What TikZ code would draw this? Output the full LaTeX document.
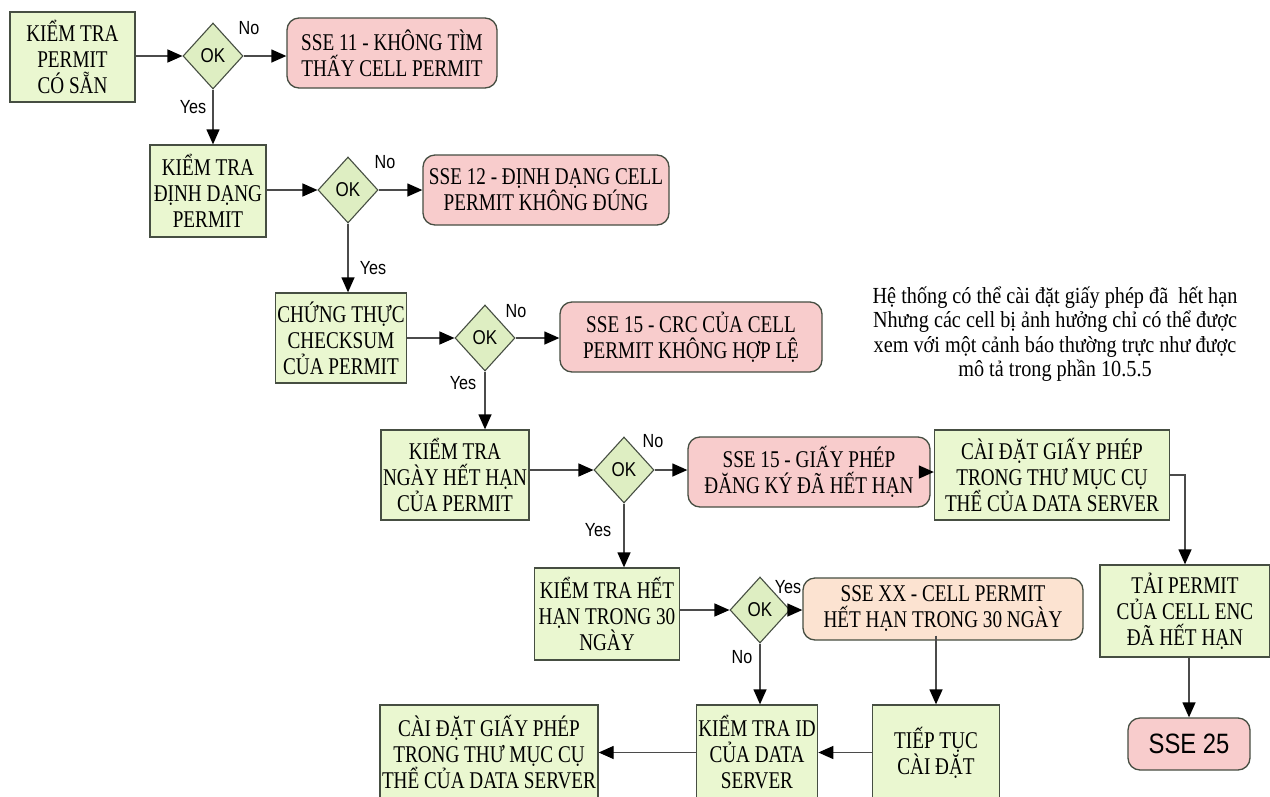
\documentclass[tikz,border=0pt]{standalone}
\usepackage{fontspec}
\setmainfont{Liberation Serif}
\newfontfamily\boxfont{Liberation Serif}[FakeStretch=0.8]
\newfontfamily\notefont{Liberation Serif}[FakeStretch=0.88]
\newfontfamily\tagfont{Liberation Sans}[FakeStretch=0.85]
\usetikzlibrary{shapes.geometric,arrows.meta}

\definecolor{taskgreen}{RGB}{234,247,208}
\definecolor{decgreen}{RGB}{222,238,194}
\definecolor{errpink}{RGB}{248,204,204}
\definecolor{warnpeach}{RGB}{252,227,209}
\definecolor{edgegray}{RGB}{70,78,66}
\definecolor{linegray}{RGB}{75,75,75}

\tikzset{
  base/.style={draw=edgegray, line width=1.3pt, align=center, inner sep=2pt,
    font=\boxfont\fontsize{24}{26}\selectfont},
  taskbox/.style={base, rectangle, fill=taskgreen},
  errbox/.style={base, rectangle, rounded corners=12pt, fill=errpink},
  warnbox/.style={base, rectangle, rounded corners=12pt, fill=warnpeach},
  decision/.style={diamond, draw=edgegray, line width=1.1pt, fill=decgreen,
    minimum width=60pt, minimum height=66pt, inner sep=0pt,
    font=\tagfont\fontsize{20}{20}\selectfont},
  flow/.style={draw=linegray, line width=1.3pt,
    -{Triangle[length=15pt,width=13pt,color=black]}},
  tag/.style={font=\tagfont\fontsize{19}{19}\selectfont, inner sep=0pt},
}

\begin{document}
\begin{tikzpicture}[x=1pt,y=-1pt]
\useasboundingbox[fill=white] (0,0) rectangle (1270,796);

% row 1
\node[taskbox, minimum width=125pt, minimum height=90pt] (b1) at (72.5,57)
  {KIỂM TRA\\PERMIT\\CÓ SẴN};
\node[decision] (d1) at (213,56) {OK};
\node[errbox, minimum width=210pt, minimum height=70pt] (s11) at (392,53)
  {SSE 11 - KHÔNG TÌM\\THẤY CELL PERMIT};

% row 2
\node[taskbox, minimum width=116pt, minimum height=92pt] (b2) at (208,191)
  {KIỂM TRA\\ĐỊNH DẠNG\\PERMIT};
\node[decision] (d2) at (348,190) {OK};
\node[errbox, minimum width=246pt, minimum height=70pt] (s12) at (546,190)
  {SSE 12 - ĐỊNH DẠNG CELL\\PERMIT KHÔNG ĐÚNG};

% row 3
\node[taskbox, minimum width=128pt, minimum height=90pt] (b3) at (341,338)
  {CHỨNG THỰC\\CHECKSUM\\CỦA PERMIT};
\node[decision] (d3) at (485,338) {OK};
\node[errbox, minimum width=262pt, minimum height=70pt] (s15a) at (691,337)
  {SSE 15 - CRC CỦA CELL\\PERMIT KHÔNG HỢP LỆ};

% note
\node[align=center, inner sep=0pt, font=\notefont\fontsize{23}{24.5}\selectfont]
  (note) at (1055,334)
  {Hệ thống có thể cài đặt giấy phép đã\ \ hết hạn\\
   Nhưng các cell bị ảnh hưởng chỉ có thể được\\
   xem với một cảnh báo thường trực như được\\
   mô tả trong phần 10.5.5};

% row 4
\node[taskbox, minimum width=130pt, minimum height=90pt] (b4) at (455,475)
  {KIỂM TRA\\NGÀY HẾT HẠN\\CỦA PERMIT};
\node[decision] (d4) at (624,470) {OK};
\node[errbox, minimum width=242pt, minimum height=70pt] (s15b) at (809,472)
  {SSE 15 - GIẤY PHÉP\\ĐĂNG KÝ ĐÃ HẾT HẠN};
\node[taskbox, minimum width=235pt, minimum height=90pt] (b5) at (1052,475)
  {CÀI ĐẶT GIẤY PHÉP\\TRONG THƯ MỤC CỤ\\THỂ CỦA DATA SERVER};

% right column
\node[taskbox, minimum width=170pt, minimum height=92pt] (b6) at (1185,611)
  {TẢI PERMIT\\CỦA CELL ENC\\ĐÃ HẾT HẠN};
\node[errbox, minimum width=122pt, minimum height=52pt,
  font=\tagfont\fontsize{28}{28}\selectfont] (s25) at (1189,744) {SSE 25};

% row 5
\node[taskbox, minimum width=145pt, minimum height=92pt] (b7) at (607,614)
  {KIỂM TRA HẾT\\HẠN TRONG 30\\NGÀY};
\node[decision] (d5) at (760,610) {OK};
\node[warnbox, minimum width=280pt, minimum height=62pt] (sxx) at (943,609)
  {SSE XX - CELL PERMIT\\HẾT HẠN TRONG 30 NGÀY};

% row 6
\node[taskbox, minimum width=121pt, minimum height=95pt] (b8) at (757,752.5)
  {KIỂM TRA ID\\CỦA DATA\\SERVER};
\node[taskbox, minimum width=127pt, minimum height=95pt] (b9) at (936,752.5)
  {TIẾP TỤC\\CÀI ĐẶT};
\node[taskbox, minimum width=202pt, minimum height=95pt] (b10) at (489,752.5)
  {CÀI ĐẶT GIẤY PHÉP\\TRONG THƯ MỤC CỤ\\THỂ CỦA DATA SERVER};

% connectors
\draw[flow] (b1.east |- d1.west) -- (d1.west);
\draw[flow] (d1.east) -- (d1.east -| s11.west);
\draw[flow] (d1.south) -- (d1.south |- b2.north);

\draw[flow] (b2.east |- d2.west) -- (d2.west);
\draw[flow] (d2.east) -- (d2.east -| s12.west);
\draw[flow] (d2.south) -- (d2.south |- b3.north);

\draw[flow] (b3.east |- d3.west) -- (d3.west);
\draw[flow] (d3.east) -- (d3.east -| s15a.west);
\draw[flow] (d3.south) -- (d3.south |- b4.north);

\draw[flow] (b4.east |- d4.west) -- (d4.west);
\draw[flow] (d4.east) -- (d4.east -| s15b.west);
\draw[flow] (s15b.east) -- (s15b.east -| b5.west);
\draw[flow] (b5.east) -| (b6.north);
\draw[flow] (b6.south -| s25.north) -- (s25.north);
\draw[flow] (d4.south) -- (d4.south |- b7.north);

\draw[flow] (b7.east |- d5.west) -- (d5.west);
\draw[flow] (d5.east) -- (d5.east -| sxx.west);
\draw[flow] (d5.south) -- (d5.south |- b8.north);
\coordinate (sxxfoot) at ([yshift=5pt]sxx.south -| b9.north);
\draw[flow] (sxxfoot) -- (b9.north);
\draw[flow] (b9.west) -- (b8.east);
\draw[flow] (b8.west) -- (b10.east);

% branch labels
\node[tag] (n1) at (249,28) {No};
\node[tag] (y1) at (193,107) {Yes};
\node[tag] (n2) at (385,162) {No};
\node[tag] (y2) at (373,268) {Yes};
\node[tag] (n3) at (516,311) {No};
\node[tag] (y3) at (463,383) {Yes};
\node[tag] (n4) at (653,441) {No};
\node[tag] (y4) at (598,530) {Yes};
\node[tag] (y5) at (788,587) {Yes};
\node[tag] (n5) at (742,657) {No};
\end{tikzpicture}
\end{document}
